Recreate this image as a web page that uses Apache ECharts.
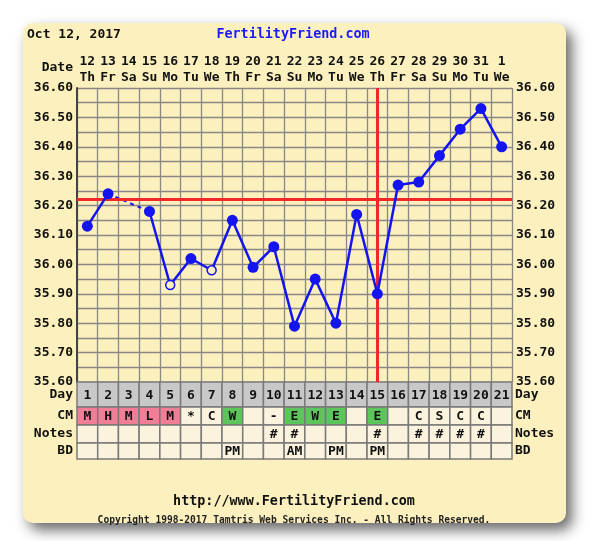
<!DOCTYPE html>
<html>
<head>
<meta charset="utf-8">
<script src="https://cdn.jsdelivr.net/npm/echarts@6/dist/echarts.min.js"></script>
<style>
  html, body { margin: 0; padding: 0; background: #fff; }
  #chart { width: 600px; height: 541px; }
</style>
</head>
<body>
<div id="chart"></div>
<script>
// --- Datos del gráfico ---
const dates = ['12','13','14','15','16','17','18','19','20','21','22','23','24','25','26','27','28','29','30','31','1'];
const weekdays = ['Th','Fr','Sa','Su','Mo','Tu','We','Th','Fr','Sa','Su','Mo','Tu','We','Th','Fr','Sa','Su','Mo','Tu','We'];
const cycleDays = ['1','2','3','4','5','6','7','8','9','10','11','12','13','14','15','16','17','18','19','20','21'];
const temps = [36.13, 36.24, null, 36.18, 35.93, 36.02, 35.98, 36.15, 35.99, 36.06, 35.79,
               35.95, 35.80, 36.17, 35.90, 36.27, 36.28, 36.37, 36.46, 36.53, 36.40];
const openPoints = [4, 6];      // temperaturas descartadas (círculo hueco)
const coverLine = 36.22;
const ovulationDay = 14;        // índice del día 15
const cmCodes = ['M','H','M','L','M','*','C','W','','-','E','W','E','','E','','C','S','C','C',''];
const notes = ['','','','','','','','','','#','#','','','','#','','#','#','#','#',''];
const bdTimes = ['','','','','','','','PM','','','AM','','PM','','PM','','','','','',''];

// --- Estilos ---
const FONT = 'DejaVu Sans Mono';
const BLUE = '#1414f0';
const RED = '#f02828';
const CARD = '#fcf0be';
const GRID_GRAY = '#888888';
const CELL = '#fbf3dd';
const PINK = '#f07e96';
const GREEN = '#5cc55c';
const DAYGRAY = '#c8c8c8';

const txt = { fontFamily: FONT, fontWeight: 'bold', fontSize: 13, color: '#111' };

function cmColor(c) {
    if (c === 'M' || c === 'H' || c === 'L') return PINK;
    if (c === 'W' || c === 'E') return GREEN;
    return CELL;
}

// tramo discontinuo sobre el día sin dato
const gapLine = temps.map((v, i) =>
    (v !== null && (temps[i - 1] === null || temps[i + 1] === null)) ? v : null);

const tempData = temps.map((v, i) => {
    if (openPoints.indexOf(i) >= 0) {
        return { value: v, symbolSize: 9, itemStyle: { color: CARD, borderColor: BLUE, borderWidth: 1.5 } };
    }
    return v;
});

// --- Filas de la tabla inferior ---
const PLOT_LEFT = 77, PLOT_W = 435;
const rows = [
    { name: 'Day',   top: 382, height: 25, fill: () => DAYGRAY, text: i => cycleDays[i] },
    { name: 'CM',    top: 407, height: 18, fill: i => cmColor(cmCodes[i]), text: i => cmCodes[i] },
    { name: 'Notes', top: 425, height: 18, fill: () => CELL, text: i => notes[i] },
    { name: 'BD',    top: 443, height: 16, fill: () => CELL, text: i => bdTimes[i] }
];

const grids = [{ left: PLOT_LEFT, top: 88, width: PLOT_W, height: 294 }];
const xAxes = [{
    type: 'category',
    gridIndex: 0,
    position: 'top',
    data: dates,
    axisLine: { show: false },
    axisTick: { show: false },
    splitLine: { show: true, lineStyle: { color: GRID_GRAY, width: 1.3 } },
    axisLabel: {
        ...txt, margin: 2, lineHeight: 16, interval: 0,
        formatter: (v, i) => v + '\n' + weekdays[i]
    }
}];
const tempLabel = v => (Math.round(v * 100) % 10 === 0 ? v.toFixed(2) : '');
const yAxes = [0, 1].map(k => ({
    type: 'value',
    gridIndex: 0,
    position: k === 0 ? 'left' : 'right',
    min: 35.6,
    max: 36.6,
    interval: 0.05,
    axisLine: { show: k === 0, lineStyle: { color: '#444', width: 2 } },
    axisTick: { show: false },
    splitLine: { show: k === 0, lineStyle: { color: GRID_GRAY, width: 1.3 } },
    axisLabel: { ...txt, margin: 4, formatter: tempLabel }
}));

const series = [
    {
        name: 'gap',
        type: 'line',
        xAxisIndex: 0, yAxisIndex: 0,
        data: gapLine,
        connectNulls: true,
        symbol: 'none',
        lineStyle: { color: BLUE, width: 2, type: [4, 4] },
        z: 3,
        markLine: {
            silent: true,
            symbol: 'none',
            label: { show: false },
            lineStyle: { color: RED, width: 3, type: 'solid' },
            data: [{ yAxis: coverLine }, { xAxis: ovulationDay }]
        }
    },
    {
        name: 'Temp',
        type: 'line',
        xAxisIndex: 0, yAxisIndex: 0,
        data: tempData,
        connectNulls: false,
        symbol: 'circle',
        symbolSize: 11,
        itemStyle: { color: BLUE },
        lineStyle: { color: BLUE, width: 2.5 },
        z: 5
    }
];

rows.forEach((r, k) => {
    const g = k + 1;
    grids.push({ left: PLOT_LEFT, top: r.top, width: PLOT_W, height: r.height });
    xAxes.push({ type: 'category', gridIndex: g, data: cycleDays, show: false });
    ['left', 'right'].forEach(pos => {
        yAxes.push({
            type: 'category',
            gridIndex: g,
            position: pos,
            data: [r.name],
            axisLine: { show: false },
            axisTick: { show: false },
            axisLabel: { ...txt, margin: pos === 'left' ? 4 : 3 }
        });
    });
    series.push({
        type: 'custom',
        xAxisIndex: g,
        yAxisIndex: yAxes.length - 2,
        data: cycleDays.map((d, i) => [i, 0]),
        renderItem: function (params, api) {
            const i = params.dataIndex;
            const p = api.coord([api.value(0), 0]);
            const s = api.size([1, 1]);
            return {
                type: 'group',
                children: [
                    {
                        type: 'rect',
                        shape: { x: p[0] - s[0] / 2, y: p[1] - s[1] / 2, width: s[0], height: s[1] },
                        style: { fill: r.fill(i), stroke: '#7a7a7a', lineWidth: 1.5 }
                    },
                    {
                        type: 'text',
                        x: p[0], y: p[1] + 1,
                        style: {
                            text: r.text(i),
                            fontFamily: FONT, fontWeight: 'bold', fontSize: 13,
                            fill: '#111', align: 'center', verticalAlign: 'middle'
                        }
                    }
                ]
            };
        }
    });
});

const chart = echarts.init(document.getElementById('chart'));
chart.setOption({
    animation: false,
    backgroundColor: '#ffffff',
    graphic: [
        {
            type: 'rect', z: -10,
            shape: { x: 23, y: 23, width: 543, height: 500, r: 10 },
            style: { fill: CARD, shadowBlur: 14, shadowOffsetX: 6, shadowOffsetY: 7, shadowColor: 'rgba(0,0,0,0.6)' }
        },
        { type: 'text', x: 27, y: 35, style: { text: 'Oct 12, 2017', font: 'bold 13px ' + FONT, fill: '#111', verticalAlign: 'middle' } },
        { type: 'text', x: 293, y: 35, style: { text: 'FertilityFriend.com', font: 'bold 13.4px ' + FONT, fill: '#1a1aff', align: 'center', verticalAlign: 'middle' } },
        { type: 'text', x: 73, y: 68, style: { text: 'Date', font: 'bold 13px ' + FONT, fill: '#111', align: 'right', verticalAlign: 'middle' } },
        { type: 'text', x: 294, y: 502, style: { text: 'http://www.FertilityFriend.com', font: 'bold 13.4px ' + FONT, fill: '#111', align: 'center', verticalAlign: 'middle' } },
        { type: 'text', x: 294, y: 520, style: { text: 'Copyright 1998-2017 Tamtris Web Services Inc. - All Rights Reserved.', font: 'bold 9.6px ' + FONT, fill: '#222', align: 'center', verticalAlign: 'middle' } }
    ],
    grid: grids,
    xAxis: xAxes,
    yAxis: yAxes,
    series: series
});
</script>
</body>
</html>
